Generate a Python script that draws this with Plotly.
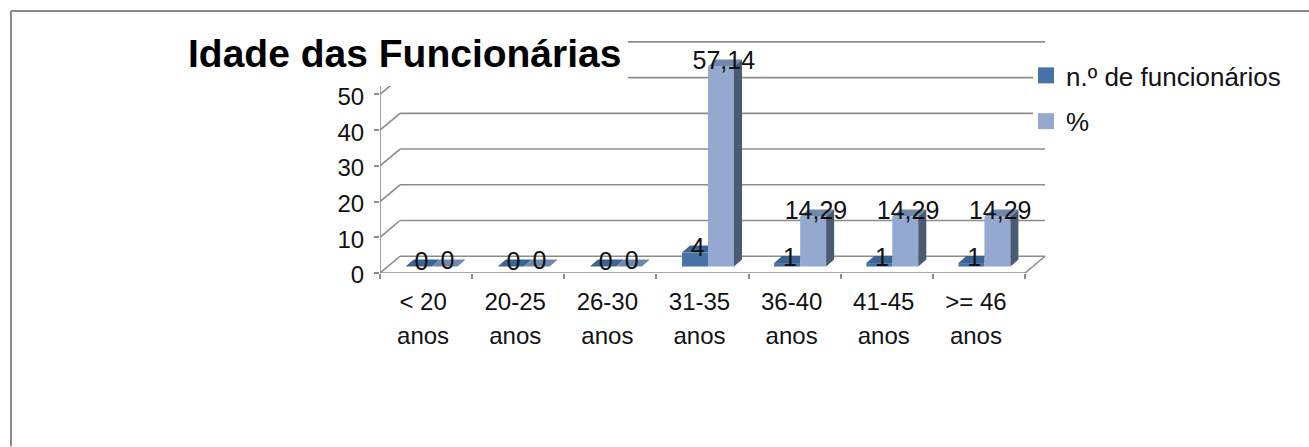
import plotly.graph_objects as go

categories = ["< 20", "20-25", "26-30", "31-35", "36-40", "41-45", ">= 46"]
funcionarios = [0, 0, 0, 4, 1, 1, 1]
percentagem = [0, 0, 0, 57.14, 14.29, 14.29, 14.29]
y_ticks = [0, 10, 20, 30, 40, 50]
grid_levels = [0, 10, 20, 30, 40, 50, 60]

W, H = 1309, 447
L, R, T, B = 380.0, 1047.0, 40.0, 273.5      # plot box in px
PX_X = 92.14                                 # px per category
PX_Y = 3.58                                  # px per value unit
x0 = -0.5
x1 = x0 + (R - L) / PX_X
y1 = (B - T) / PX_Y

WALL_DX = 20 / PX_X
WALL_DY = 16.8 / PX_Y
FLOOR = 1.8      # bars stand slightly inside the floor
DEPTH = 0.98     # bars sit further back than the axis
BAR_W = 0.282
OFF_A = -0.222
OFF_B = 0.06
DX = 8 / PX_X
DY = 7 / PX_Y
LINE = "#8c8c8c"
BLUE, LIGHT = "#4674a8", "#95a9d0"
BLUE_TOP, LIGHT_TOP, LIGHT_SIDE = "#3b6393", "#7088ae", "#4b5a73"


def top(v):
    return FLOOR + v * DEPTH


def fmt(v):
    return str(v).replace(".", ",")


xs = list(range(len(categories)))
fig = go.Figure()

# front faces
fig.add_bar(x=xs, y=[v * DEPTH for v in funcionarios], base=FLOOR, width=BAR_W, offset=OFF_A,
            marker=dict(color=BLUE, line_width=0), showlegend=False)
fig.add_bar(x=xs, y=[v * DEPTH for v in percentagem], base=FLOOR, width=BAR_W, offset=OFF_B,
            marker=dict(color=LIGHT, line_width=0), showlegend=False)

# top and side faces, derived from the same values
blue_x, blue_y = [], []
for i, (a, b) in enumerate(zip(funcionarios, percentagem)):
    l, r = i + OFF_A, i + OFF_A + BAR_W
    y = top(a)
    blue_x += [l, r, (r + DX if b <= a else r), l + DX, None]
    blue_y += [y, y, y + DY, y + DY, None]
fig.add_scatter(x=blue_x, y=blue_y, mode="none", fill="toself", fillcolor=BLUE_TOP,
                showlegend=False, hoverinfo="skip")

lt_x, lt_y, sd_x, sd_y = [], [], [], []
for i, b in enumerate(percentagem):
    l, r = i + OFF_B, i + OFF_B + BAR_W
    y = top(b)
    lt_x += [l, r, r + DX, l + DX, None]
    lt_y += [y, y, y + DY, y + DY, None]
    sd_x += [r, r + DX, r + DX, r, None]
    sd_y += [y, y + DY, FLOOR + DY, FLOOR, None]
fig.add_scatter(x=lt_x, y=lt_y, mode="none", fill="toself", fillcolor=LIGHT_TOP,
                showlegend=False, hoverinfo="skip")
fig.add_scatter(x=sd_x, y=sd_y, mode="none", fill="toself", fillcolor=LIGHT_SIDE,
                showlegend=False, hoverinfo="skip")

# data labels
LBL = dict(size=25, color="#111111", family="Liberation Sans")
fig.add_scatter(x=[i + OFF_A + BAR_W / 2 + 0.03 for i in xs],
                y=[top(v) + 0.9 for v in funcionarios],
                text=[fmt(v) for v in funcionarios], mode="text", textposition="middle center",
                textfont=LBL, showlegend=False, hoverinfo="skip")
fig.add_scatter(x=[i + OFF_B + BAR_W / 2 + 0.03 for i in xs],
                y=[top(v) + 1.1 for v in percentagem],
                text=[fmt(v) for v in percentagem], mode="text", textposition="middle center",
                textfont=LBL, showlegend=False, hoverinfo="skip")

# legend entries
for name, col in [("n.º de funcionários", BLUE), ("%", LIGHT)]:
    fig.add_scatter(x=[None], y=[None], mode="markers", name=name, legendgroup=name,
                    marker=dict(symbol="square", size=16, color=col))

# frame of the 3D box
shapes = []
def ln(xa, ya, xb, yb):
    shapes.append(dict(type="line", xref="x", yref="y", x0=xa, y0=ya, x1=xb, y1=yb,
                       line=dict(color=LINE, width=1.6), layer="below"))

left, right = -0.5, len(categories) - 0.5
for g in grid_levels:
    ln(left + WALL_DX, g + WALL_DY, right + WALL_DX, g + WALL_DY)
    ln(left, g, left + WALL_DX, g + WALL_DY)
ln(left, 0, right, 0)
ln(left, 0, left, y1)
ln(right, 0, right + WALL_DX, WALL_DY)

# white backing of the title and legend, which hide parts of the grid
def paper_x(p):
    return (p - L) / (R - L)
def paper_y(p):
    return (B - p) / (B - T)
for a, b, c, d in [(376, 628, 30, 86), (1033, 1295, 55, 135)]:
    shapes.append(dict(type="rect", xref="paper", yref="paper", x0=paper_x(a), x1=paper_x(b),
                       y0=paper_y(d), y1=paper_y(c), fillcolor="white", line_width=0, layer="above"))
# outer border
shapes.append(dict(type="line", xref="paper", yref="paper", x0=paper_x(11), x1=paper_x(W),
                   y0=paper_y(11), y1=paper_y(11), line=dict(color="#8a8a8a", width=2)))
shapes.append(dict(type="line", xref="paper", yref="paper", x0=paper_x(11), x1=paper_x(11),
                   y0=paper_y(H), y1=paper_y(11), line=dict(color="#8a8a8a", width=2)))

ticktext = [f'<span style="font-size:24px">{c}</span><br><span style="font-size:24px">anos</span>'
            for c in categories]

fig.update_layout(
    width=W, height=H,
    margin=dict(l=L, r=W - R, t=T, b=H - B, pad=0),
    paper_bgcolor="white", plot_bgcolor="rgba(0,0,0,0)",
    barmode="overlay",
    font=dict(family="Liberation Sans", color="#111111"),
    title=dict(text="Idade das Funcionárias", x=188 / W, xanchor="left", y=1 - 53 / H, yanchor="middle",
               font=dict(size=39, color="black", family="Liberation Sans", weight="bold")),
    xaxis=dict(range=[x0, x1], tickmode="array", tickvals=xs, ticktext=ticktext,
               tickfont=dict(size=26), ticks="", showgrid=False, zeroline=False, showline=False,
               ticklabelstandoff=10, ticklabelshift=-3,
               minor=dict(tickmode="array", tickvals=[i - 0.5 for i in range(len(categories) + 1)],
                          ticks="outside", ticklen=5, tickcolor=LINE, tickwidth=1.6, showgrid=False)),
    yaxis=dict(range=[0, y1], tickmode="array", tickvals=y_ticks, ticks="outside", ticklen=5,
               tickcolor=LINE, tickwidth=1.6, tickfont=dict(size=24), showgrid=False,
               zeroline=False, showline=False, ticklabelstandoff=5, ticklabelshift=2),
    legend=dict(x=paper_x(1026), xanchor="left", y=paper_y(52), yanchor="top",
                font=dict(size=26), bgcolor="rgba(0,0,0,0)", tracegroupgap=9,
                itemsizing="trace", traceorder="grouped"),
    shapes=shapes,
    hovermode=False,
)
fig.write_html("out.html", config={"displayModeBar": False},
               post_script="document.body.style.margin='0';")
